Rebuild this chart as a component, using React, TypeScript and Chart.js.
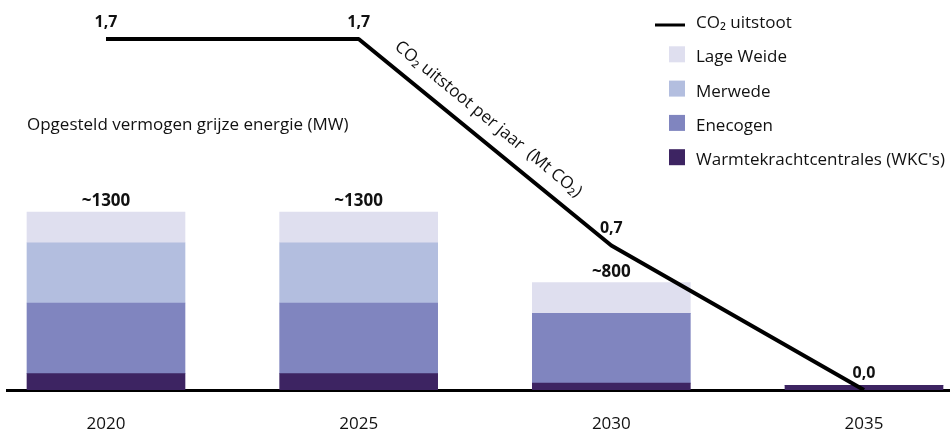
import React, { useEffect, useRef } from 'react';
import { Chart, registerables } from 'chart.js';

Chart.register(...registerables);

const FONT = '"Open Sans", "Noto Sans", sans-serif';

const years = ['2020', '2025', '2030', '2035'];
const wkc = [120, 120, 50, 35];
const enecogen = [515, 515, 510, 0];
const merwede = [440, 440, 0, 0];
const lageWeide = [225, 225, 225, 0];
const co2 = [1.7, 1.7, 0.7, 0.0];
const co2Labels = ['1,7', '1,7', '0,7', '0,0'];
const barLabels = ['~1300', '~1300', '~800', ''];
const title = 'Opgesteld vermogen grijze energie (MW)';
const lineCaption = 'CO\u2082 uitstoot per jaar  (Mt CO\u2082)';
const legendLabels = ['CO\u2082 uitstoot', 'Lage Weide', 'Merwede', 'Enecogen', "Warmtekrachtcentrales (WKC's)"];

const COLORS = {
  wkc: '#3D2462',
  enecogen: '#8085BF',
  merwede: '#B3BEDF',
  lageWeide: '#DFDFEF',
  line: '#000000',
};

const overlay = {
  id: 'overlay',
  afterDatasetsDraw(chart: any) {
    const ctx = chart.ctx as CanvasRenderingContext2D;
    const xs = chart.scales.x;
    const ys = chart.scales.y;
    const y2 = chart.scales.y2;
    ctx.save();
    ctx.fillStyle = '#111';
    ctx.textBaseline = 'alphabetic';

    // bar totals
    ctx.font = `bold 17px ${FONT}`;
    ctx.textAlign = 'center';
    years.forEach((_, i) => {
      if (!barLabels[i]) return;
      const total = wkc[i] + enecogen[i] + merwede[i] + lageWeide[i];
      ctx.fillText(barLabels[i], xs.getPixelForValue(i), ys.getPixelForValue(total) - 6);
    });

    // co2 labels
    ctx.font = `bold 16px ${FONT}`;
    co2.forEach((v, i) => {
      ctx.fillText(co2Labels[i], xs.getPixelForValue(i), y2.getPixelForValue(v) - 12);
    });

    // title
    ctx.font = `17px ${FONT}`;
    ctx.textAlign = 'left';
    ctx.fillText(title, 27, 130);

    // rotated caption along the line
    const p1x = xs.getPixelForValue(1), p1y = y2.getPixelForValue(co2[1]);
    const p2x = xs.getPixelForValue(2), p2y = y2.getPixelForValue(co2[2]);
    const ang = Math.atan2(p2y - p1y, p2x - p1x);
    ctx.save();
    ctx.translate((p1x + p2x) / 2, (p1y + p2y) / 2);
    ctx.rotate(ang);
    ctx.font = `17px ${FONT}`;
    ctx.textAlign = 'center';
    ctx.fillText(lineCaption, -12, -15);
    ctx.restore();

    // legend
    const fills = [COLORS.line, COLORS.lageWeide, COLORS.merwede, COLORS.enecogen, COLORS.wkc];
    ctx.font = `17px ${FONT}`;
    ctx.textAlign = 'left';
    legendLabels.forEach((lab, i) => {
      const base = 28 + i * 34.3;
      if (i === 0) {
        ctx.strokeStyle = COLORS.line;
        ctx.lineWidth = 3;
        ctx.beginPath();
        ctx.moveTo(655, base - 3);
        ctx.lineTo(685, base - 3);
        ctx.stroke();
      } else {
        ctx.fillStyle = fills[i];
        ctx.fillRect(669, base - 16, 16, 16);
      }
      ctx.fillStyle = '#111';
      ctx.fillText(lab, 696, base);
    });
    ctx.restore();
  },
};

export default function App() {
  const ref = useRef<HTMLCanvasElement>(null);
  useEffect(() => {
    const pts = (arr: number[]) => arr.map((v, i) => ({ x: i, y: v }));
    const barBase = { type: 'bar' as const, barThickness: 158, borderWidth: 0, order: 1, yAxisID: 'y', xAxisID: 'x' };
    const chart = new Chart(ref.current!, {
      type: 'bar',
      data: {
        datasets: [
          {
            type: 'line',
            label: legendLabels[0],
            data: pts(co2),
            borderColor: COLORS.line,
            borderWidth: 4,
            pointRadius: 0,
            tension: 0,
            borderJoinStyle: 'round',
            borderCapStyle: 'butt',
            yAxisID: 'y2',
            xAxisID: 'x',
            order: 0,
          } as any,
          { ...barBase, label: legendLabels[4], data: pts(wkc), backgroundColor: COLORS.wkc },
          { ...barBase, label: legendLabels[3], data: pts(enecogen), backgroundColor: COLORS.enecogen },
          { ...barBase, label: legendLabels[2], data: pts(merwede), backgroundColor: COLORS.merwede },
          { ...barBase, label: legendLabels[1], data: pts(lageWeide), backgroundColor: COLORS.lageWeide },
        ],
      },
      options: {
        responsive: false,
        devicePixelRatio: 1,
        animation: false,
        layout: { padding: { left: 7, right: 0, top: 0, bottom: 0 } },
        plugins: { legend: { display: false }, tooltip: { enabled: false } },
        scales: {
          x: {
            type: 'linear',
            min: -0.3918,
            max: 3.3404,
            offset: false,
            stacked: true,
            grid: { display: false, offset: false },
            border: { display: true, color: '#000', width: 3 },
            afterBuildTicks: (axis: any) => {
              axis.ticks = years.map((_, i) => ({ value: i }));
            },
            afterFit: (axis: any) => {
              axis.height = 39;
            },
            ticks: {
              autoSkip: false,
              maxRotation: 0,
              padding: 16,
              color: '#111',
              font: { family: FONT, size: 17 },
              callback: (v: any) => years[Number(v)] ?? '',
            },
          },
          y: { display: false, stacked: true, min: 0, max: 2848 },
          y2: { display: false, min: 0, max: 1.889 },
        },
      } as any,
      plugins: [overlay],
    });
    return () => chart.destroy();
  }, []);
  return (
    <div style={{ position: 'absolute', left: 0, top: 0, width: 950, height: 429 }}>
      <canvas ref={ref} width={950} height={429} style={{ display: 'block' }} />
    </div>
  );
}
